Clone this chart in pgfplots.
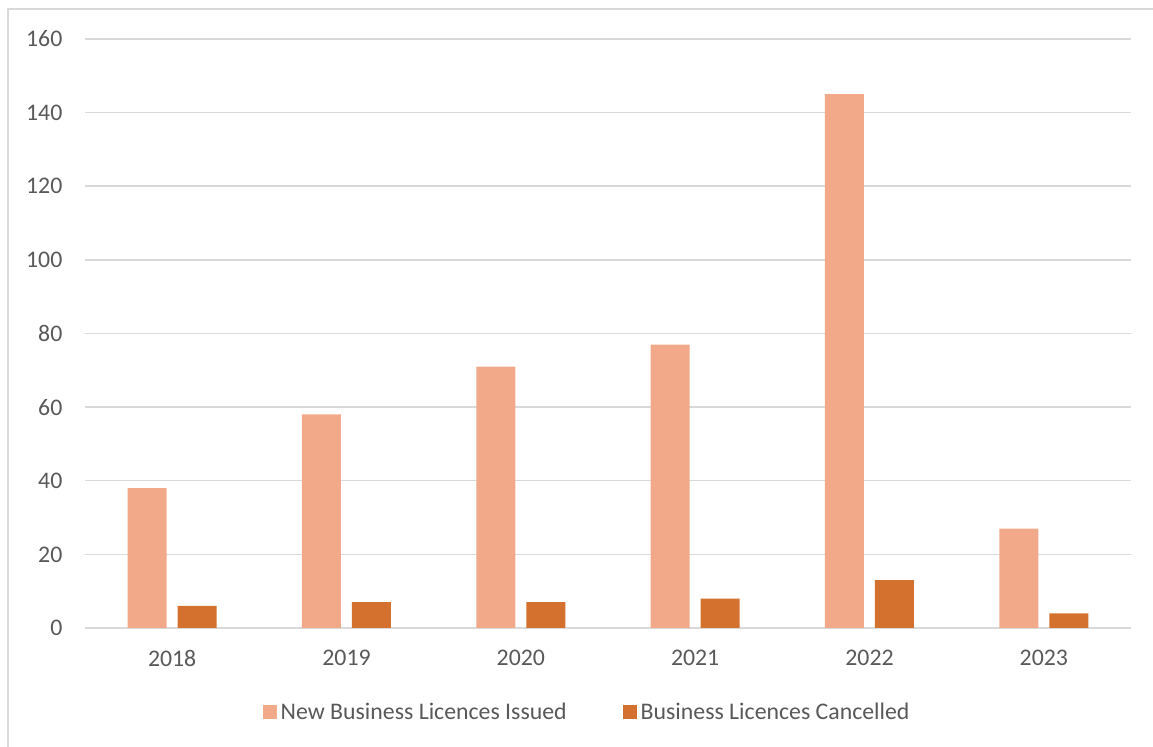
\documentclass[border=0pt]{standalone}
\usepackage{pgfplots}
\pgfplotsset{compat=1.18}
\usepackage{fontspec}
\setmainfont{Carlito}
\definecolor{lightbar}{HTML}{F1A98A}
\definecolor{darkbar}{HTML}{D4712E}
\definecolor{gridgray}{HTML}{D9D9D9}
\definecolor{textgray}{HTML}{595959}
\begin{document}
\begin{tikzpicture}
\begin{axis}[
  at={(0,0)}, anchor=south west,
  scale only axis,
  width=523pt, height=294.5pt,
  ybar=5.5pt, bar width=19.5pt,
  xmin=-0.5, xmax=5.5,
  ymin=0, ymax=160,
  ytick={0,20,...,160},
  xtick={0,1,2,3,4,5},
  xticklabels={2018,2019,2020,2021,2022,2023},
  major tick length=0pt,
  ymajorgrids, grid style={gridgray, line width=0.75pt},
  axis line style={draw=none},
  extra y ticks={0}, extra y tick labels={},
  extra y tick style={grid style={gridgray, line width=1pt}},
  tick label style={font=\fontsize{11.9}{14}\selectfont, text=textgray},
  /pgf/number format/assume math mode=true,
  yticklabel style={xshift=-7.8pt},
  xticklabel style={yshift=-7.6pt},
  legend style={at={(0.481,-0.144)}, anchor=center, draw=none,
    legend columns=2, font=\fontsize{11.9}{14}\selectfont, text=textgray,
    /tikz/every even column/.append style={column sep=26pt}},
  legend image code/.code={\fill[#1] (0pt,-3.2pt) rectangle (7pt,3.8pt);},
]
\addplot[fill=lightbar, draw=none] coordinates {(0,38) (1,58) (2,71) (3,77) (4,145) (5,27)};
\addplot[fill=darkbar, draw=none] coordinates {(0,6) (1,7) (2,7) (3,8) (4,13) (5,4)};
\legend{New Business Licences Issued, Business Licences Cancelled}
\end{axis}
\draw[gridgray, line width=0.8pt] (-38.5pt,-59.5pt) -- (-38.5pt,309.5pt) -- (534pt,309.5pt);
\pgfresetboundingbox
\useasboundingbox (-42.5pt,-59.5pt) rectangle (534pt,314pt);
\end{tikzpicture}
\end{document}
